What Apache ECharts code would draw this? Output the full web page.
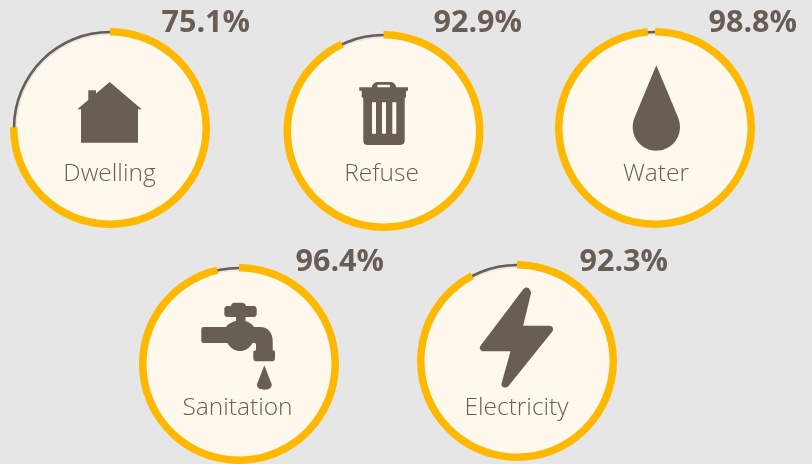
<!DOCTYPE html>
<html><head><meta charset="utf-8">
<style>html,body{margin:0;padding:0;background:#e7e6e6}#c{width:812px;height:464px}</style>
<script src="https://cdn.jsdelivr.net/npm/echarts@6/dist/echarts.min.js"></script>
</head><body><div id="c"></div>
<script>
const categories = ['Dwelling','Refuse','Water','Sanitation','Electricity'];
const values = [75.1,92.9,98.8,96.4,92.3];

// layout, kept apart from the data
const centers = [[110,128],[383.5,131],[655,128],[239,364],[517,361]];
const nameAnchors = [[109.5,174],[381.5,174],[656,174],[237.5,408],[516.5,408]];
const valueAnchors = [[161.5,23.5],[433.5,23.5],[708.5,23.5],[295.5,262.5],[579.5,262.5]];
const INK='#685e56', GOLD='#ffb800', CREAM='#fff8ec';

// icon outlines: path + its bounding box [x,y,w,h] on the page
const icons = [
 {d:'M109.7 82L141.7 109.3L138 109.3L138 142.7L81 142.7L81 109.3L77.3 109.3L88.3 100L88.3 90.3L96 90.3L96 93.6Z', b:[77.3,82,64.4,60.7]},
 {d:'M372 87.3C372 84 375 82 378 82L390 82C393 82 396 84 396 87.3L408 87.3L408 90.7L406 90.7L406 97L404.7 98.3L404.7 141C404.7 143.5 402.5 145 400 145L367.5 145C365 145 363.3 143.5 363.3 141L363.3 98.3L361.7 97L361.7 90.7L359.3 90.7L359.3 87.3Z'
   +'M377.3 87.3L390 87.3L390 85.6C390 85 389.5 84.7 389 84.7L378.3 84.7C377.8 84.7 377.3 85 377.3 85.6Z'
   +'M372 102.3L372 133.7L376 133.7L376 102.3Z M382 102.3L382 133.7L386 133.7L386 102.3Z M392.3 102.3L392.3 133.7L396.3 133.7L396.3 102.3Z', b:[359.3,82,48.7,63]},
 {d:'M656.3 65.3L677.5 116C679.2 120 680 123 680 127C680 140 669.5 150.7 656.3 150.7C643.2 150.7 632.7 140 632.7 127C632.7 123 633.5 120 635.2 116Z', b:[632.7,65.3,47.3,85.4]},
 {d:'M234.5 302.7L241.5 302.7C244 302.7 246 304 246 306L254 306C255.5 306 256.7 307.5 256.7 309L256.7 314C256.7 315.5 255.5 317 254 317L245.5 317L245.5 321C250 322.5 253 325 254 327L260 327C268 327 272.7 333 272.7 341L272.7 350.3L273 350.3C274.2 350.3 275 351.2 275 352.3L275 358.5C275 360 274 361.3 272.5 361.3L256 361.3C254.5 361.3 253.3 360 253.3 358.5L253.3 352.3C253.3 351.2 254.2 350.3 256 350.3L256 344.5C256 343.5 255.3 343 254.5 343L252.5 343C249.5 348.5 245 351 240 351C235 351 230.5 348.5 227.5 343L203.5 343C202.2 343 201.3 342 201.3 340.5L201.3 329.5C201.3 328 202.2 327 203.5 327L226 327C227 325 230.5 322.5 236 321L236 317L227 317C225.5 317 224.3 315.5 224.3 314L224.3 309C224.3 307.5 225.5 306 227 306L231 306C231 304 232.5 302.7 234.5 302.7Z', b:[201.3,302.7,73.7,58.6]},
 {d:'M264.3 365.3L270 380C271.2 382.5 271.7 384 271.7 385C271.7 388 268.5 389.7 264.3 389.7C260.2 389.7 257 388 257 385C257 384 257.5 382.5 258.7 380Z', b:[257,365.3,14.7,24.4]},
 {d:'M523.5 289.5C525 287.5 529 287 530 290.5C530.5 291.5 531.5 292 531 294L523.3 326L549 326C552.5 326 554 329 552.5 331.5L508.5 386C506 388.5 501 387.5 501.7 383.5L510.7 351.3L484 351.3C480.5 351.3 479 347.5 481 345.5Z', b:[479.8,287.5,73.3,100]}
];

const series = [];
categories.forEach((name,i)=>{
  const center = centers[i], v = values[i];
  series.push({type:'pie',silent:true,center,radius:[0,93],z:1,startAngle:90,label:{show:false},labelLine:{show:false},animation:false,
    data:[{name,value:100,itemStyle:{color:CREAM}}]});
  series.push({type:'pie',silent:true,center,radius:[94.7,97.3],z:2,startAngle:90,label:{show:false},labelLine:{show:false},animation:false,
    data:[{name,value:100,itemStyle:{color:INK}}]});
  series.push({type:'pie',silent:true,center,radius:[92.5,100],z:3,startAngle:90,clockwise:true,label:{show:false},labelLine:{show:false},animation:false,
    emphasis:{disabled:true},
    data:[{name,value:v,itemStyle:{color:GOLD}},{name:'rest',value:+(100-v).toFixed(1),itemStyle:{color:'rgba(0,0,0,0)'}}]});
});
series.push({type:'custom',coordinateSystem:'none',silent:true,z:5,animation:false,
  data:icons.map((_,i)=>i),
  renderItem:(p,api)=>{
    const ic = icons[api.value(0)];
    return {type:'path',shape:{pathData:ic.d,layout:'cover',x:ic.b[0],y:ic.b[1],width:ic.b[2],height:ic.b[3]},style:{fill:INK}};
  }});

const graphic = [];
categories.forEach((name,i)=>{
  graphic.push({type:'text',z:10,x:nameAnchors[i][0],y:nameAnchors[i][1],silent:true,
    style:{text:name,fill:INK,font:'300 24.5px "Open Sans"',textAlign:'center',textVerticalAlign:'middle'}});
  graphic.push({type:'text',z:10,x:valueAnchors[i][0],y:valueAnchors[i][1],silent:true,
    style:{text:values[i].toFixed(1)+'%',fill:INK,font:'700 30.5px "Open Sans"',textAlign:'left',textVerticalAlign:'middle'}});
});

const chart = echarts.init(document.getElementById('c'),null,{renderer:'canvas'});
chart.setOption({backgroundColor:'#e7e6e6',animation:false,series,graphic});
</script></body></html>
